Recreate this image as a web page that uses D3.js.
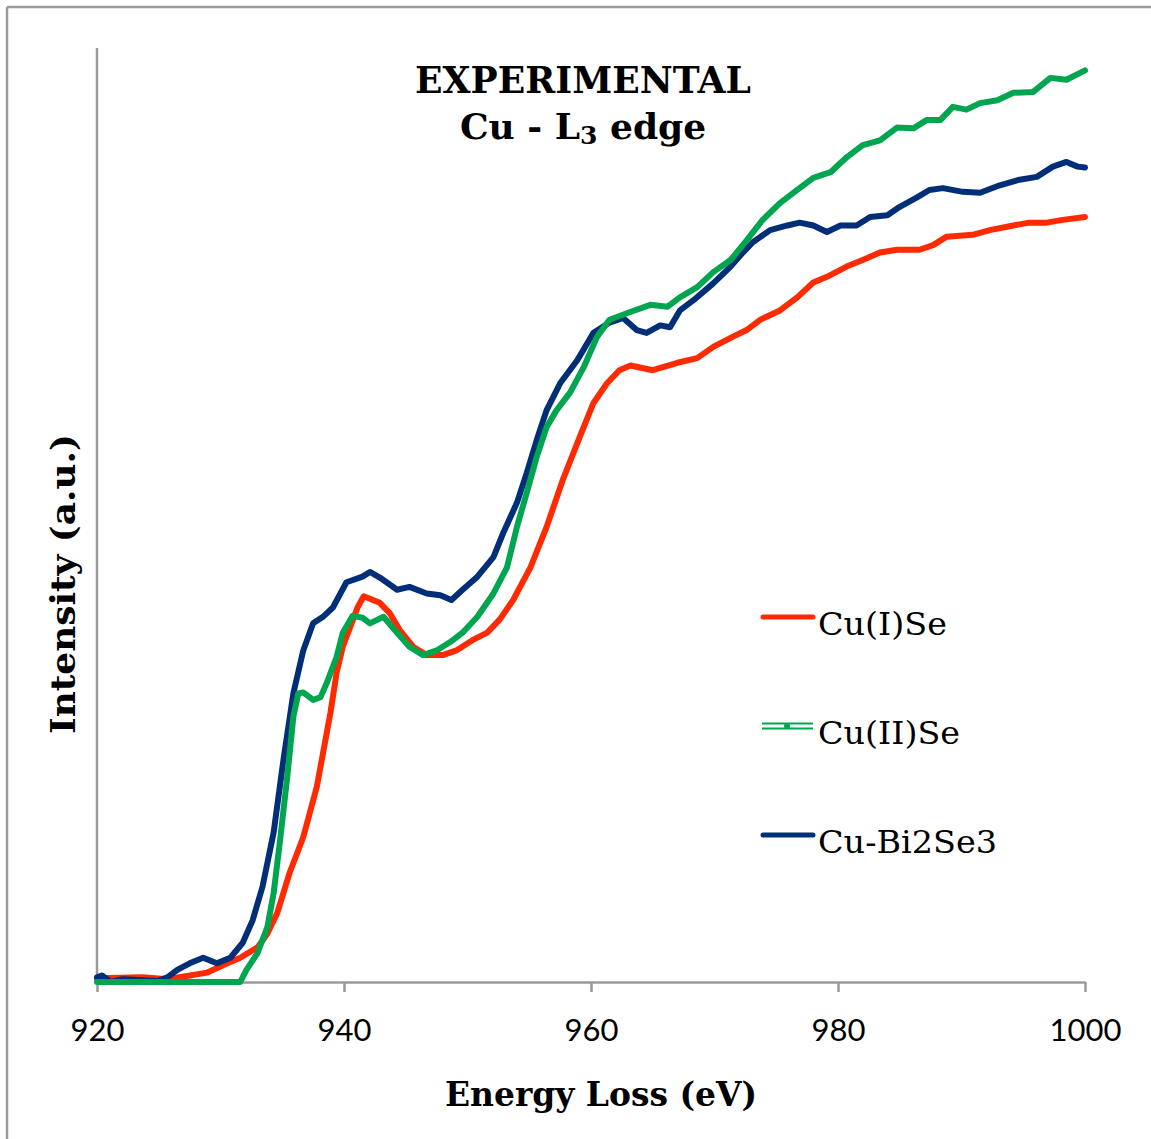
<!DOCTYPE html>
<html>
<head>
<meta charset="utf-8">
<script src="https://cdn.jsdelivr.net/npm/d3@7"></script>
<style>
  html, body { margin: 0; padding: 0; background: #fff; }
  svg { display: block; }
</style>
</head>
<body>
<svg id="chart" width="1151" height="1139"></svg>
<script>
// ---- Data ----
const seriesNames = ["Cu(I)Se", "Cu(II)Se", "Cu-Bi2Se3"];
const xTicks = [920, 940, 960, 980, 1000];

const cu1E = [920.0,923.7,925.7,928.9,930.2,931.6,933.0,933.8,934.6,935.6,936.7,937.8,938.3,938.9,939.4,939.9,940.5,941.1,941.6,942.9,943.7,944.5,945.6,946.7,948.0,949.1,950.4,951.6,952.6,953.7,955.1,956.4,957.7,959.1,960.2,961.3,962.3,963.2,965.0,967.0,968.6,969.9,971.5,972.6,973.7,975.3,976.7,978.0,979.1,980.7,982.0,983.4,984.8,986.6,987.7,988.8,990.9,992.3,994.2,995.5,996.9,998.2,1000.0];
const cu1I = [0.4,0.5,0.3,1.0,1.8,2.6,3.7,5.2,7.4,11.7,15.5,20.9,24.5,28.8,33.1,35.9,38.0,40.1,41.3,40.6,39.5,37.7,35.9,35.0,35.0,35.5,36.6,37.4,38.8,40.9,44.4,48.7,53.7,58.4,62.0,64.1,65.5,66.0,65.5,66.3,66.8,68.0,69.1,69.8,70.9,71.9,73.3,74.9,75.5,76.6,77.3,78.1,78.4,78.4,78.9,79.8,80.0,80.5,81.0,81.3,81.3,81.6,81.9];

const cu2E = [920.0,931.6,932.1,933.0,933.8,934.3,934.8,935.4,935.9,936.3,936.7,937.5,938.1,938.6,939.4,939.9,940.7,941.5,942.1,943.2,944.3,945.3,946.4,947.5,948.6,949.6,950.8,952.1,953.2,954.0,954.8,955.6,956.4,957.2,958.3,959.4,960.5,961.5,962.9,964.8,966.2,967.2,968.6,969.9,971.3,972.6,973.9,975.3,976.7,978.0,979.4,980.7,982.0,983.4,984.8,986.1,987.2,988.3,989.3,990.4,991.5,992.9,994.2,995.8,997.2,998.5,1000.0];
const cu2I = [0.0,0.0,1.3,3.1,5.9,9.5,14.9,21.9,28.4,30.9,31.0,30.2,30.5,32.0,34.8,37.4,39.2,39.0,38.4,39.1,37.4,35.9,35.0,35.5,36.4,37.4,39.1,41.6,44.4,48.7,52.4,56.2,59.4,61.2,63.1,65.8,69.1,70.9,71.6,72.5,72.3,73.3,74.4,76.0,77.3,79.4,81.6,83.4,84.8,86.1,86.7,88.3,89.6,90.1,91.5,91.4,92.3,92.3,93.7,93.4,94.1,94.4,95.2,95.3,96.8,96.6,97.6];

const biE = [920.0,920.4,921.1,922.1,923.7,924.9,925.7,926.5,927.5,928.6,929.7,930.8,931.8,932.6,933.4,934.3,935.1,935.9,936.7,937.5,938.3,939.1,940.2,941.5,942.1,942.9,944.3,945.3,946.7,947.8,948.7,949.6,950.8,952.1,952.9,954.0,954.8,955.6,956.4,957.5,958.9,960.2,961.5,962.6,963.7,964.5,965.6,966.4,967.2,968.3,969.9,971.3,972.3,973.1,974.5,975.9,976.9,978.0,979.1,980.2,981.5,982.6,984.0,985.0,986.4,987.4,988.5,990.1,991.5,993.1,994.7,996.1,997.4,998.5,999.4,1000.0];
const biI = [0.5,0.7,0.0,0.3,0.2,0.1,0.5,1.3,2.0,2.6,2.0,2.6,4.2,6.6,10.2,16.0,23.8,30.9,35.5,38.4,39.1,40.1,42.8,43.4,43.9,43.3,42.0,42.3,41.6,41.4,40.9,42.0,43.4,45.5,48.1,51.3,54.5,58.0,61.2,64.1,66.6,69.5,70.6,71.1,69.8,69.5,70.3,70.1,71.9,73.0,74.8,76.6,78.1,79.2,80.5,81.0,81.3,81.0,80.3,81.0,81.0,81.9,82.1,83.0,84.0,84.8,85.0,84.6,84.5,85.3,85.9,86.2,87.3,87.8,87.3,87.2];

const colors = { red: "#FF2A00", green: "#00A54F", blue: "#002F78" };

// ---- Layout ----
const svg = d3.select("#chart");
const x = d3.scaleLinear().domain([920, 1000]).range([97, 1085]);
const y = d3.scaleLinear().domain([0, 100]).range([982, 48]);

// frame (top & left visible)
svg.append("line").attr("x1", 7).attr("x2", 1151).attr("y1", 7).attr("y2", 7)
  .attr("stroke", "#9a9a9a").attr("stroke-width", 2.5);
svg.append("line").attr("x1", 7).attr("x2", 7).attr("y1", 7).attr("y2", 1139)
  .attr("stroke", "#9a9a9a").attr("stroke-width", 2.5);

// y axis line (no ticks)
svg.append("line").attr("x1", x(920)).attr("x2", x(920)).attr("y1", y(100)).attr("y2", y(0))
  .attr("stroke", "#9a9a9a").attr("stroke-width", 2.5);

// x axis
const xAxis = d3.axisBottom(x).tickValues(xTicks).tickSize(10).tickSizeOuter(0).tickPadding(27)
  .tickFormat(d3.format("d"));
const gx = svg.append("g").attr("transform", `translate(0,${y(0)})`).call(xAxis);
gx.select(".domain").attr("stroke", "#9a9a9a").attr("stroke-width", 2.5);
gx.selectAll(".tick line").attr("stroke", "#9a9a9a").attr("stroke-width", 2.5);
gx.selectAll(".tick text").attr("font-family", "Lato, 'Open Sans', sans-serif")
  .attr("font-size", 31).attr("fill", "#000");

// series
const line = d3.line().x(d => x(d[0])).y(d => y(d[1])).curve(d3.curveLinear);
const mk = (E, I) => E.map((e, i) => [e, I[i]]);
const series = [
  { name: seriesNames[0], data: mk(cu1E, cu1I), color: colors.red },
  { name: seriesNames[2], data: mk(biE, biI), color: colors.blue },
  { name: seriesNames[1], data: mk(cu2E, cu2I), color: colors.green }
];
series.forEach(s => {
  svg.append("path").datum(s.data).attr("d", line)
    .attr("fill", "none").attr("stroke", s.color).attr("stroke-width", 6)
    .attr("stroke-linejoin", "round").attr("stroke-linecap", "round");
});

// title
const serif = "'DejaVu Serif', 'Liberation Serif', serif";
svg.append("text").attr("x", 583).attr("y", 93).attr("text-anchor", "middle")
  .attr("font-family", serif).attr("font-weight", "bold").attr("font-size", 38)
  .attr("textLength", 336).attr("lengthAdjust", "spacingAndGlyphs")
  .text("EXPERIMENTAL");
const t2 = svg.append("text").attr("x", 583).attr("y", 139).attr("text-anchor", "middle")
  .attr("font-family", serif).attr("font-weight", "bold").attr("font-size", 36);
t2.append("tspan").text("Cu - L");
t2.append("tspan").attr("font-size", 25).attr("baseline-shift", "-20%").text("3");
t2.append("tspan").text(" edge");

// axis titles
svg.append("text").attr("x", 601).attr("y", 1106).attr("text-anchor", "middle")
  .attr("font-family", serif).attr("font-weight", "bold").attr("font-size", 34)
  .attr("textLength", 312).attr("lengthAdjust", "spacingAndGlyphs")
  .text("Energy Loss (eV)");
svg.append("text").attr("transform", "translate(75,584) rotate(-90)").attr("text-anchor", "middle")
  .attr("font-family", serif).attr("font-weight", "bold").attr("font-size", 34)
  .attr("textLength", 300).attr("lengthAdjust", "spacingAndGlyphs")
  .text("Intensity (a.u.)");

// legend
const legY = [617, 726, 835];
const legW = [129, 142, 179];
const legItems = [
  { name: seriesNames[0], color: colors.red, type: "solid" },
  { name: seriesNames[1], color: colors.green, type: "double" },
  { name: seriesNames[2], color: colors.blue, type: "solid" }
];
legItems.forEach((it, i) => {
  const g = svg.append("g");
  if (it.type === "solid") {
    g.append("line").attr("x1", 763).attr("x2", 813).attr("y1", legY[i]).attr("y2", legY[i])
      .attr("stroke", it.color).attr("stroke-width", 5).attr("stroke-linecap", "round");
  } else {
    [-2.5, 2.5].forEach(off => {
      g.append("line").attr("x1", 762).attr("x2", 813).attr("y1", legY[i] + off).attr("y2", legY[i] + off)
        .attr("stroke", it.color).attr("stroke-width", 1.8);
    });
    g.append("circle").attr("cx", 787).attr("cy", legY[i]).attr("r", 3).attr("fill", it.color);
  }
  g.append("text").attr("x", 818).attr("y", legY[i] + 18)
    .attr("font-family", serif).attr("font-size", 31).attr("fill", "#000")
    .attr("textLength", legW[i]).attr("lengthAdjust", "spacingAndGlyphs")
    .text(it.name);
});
</script>
</body>
</html>
